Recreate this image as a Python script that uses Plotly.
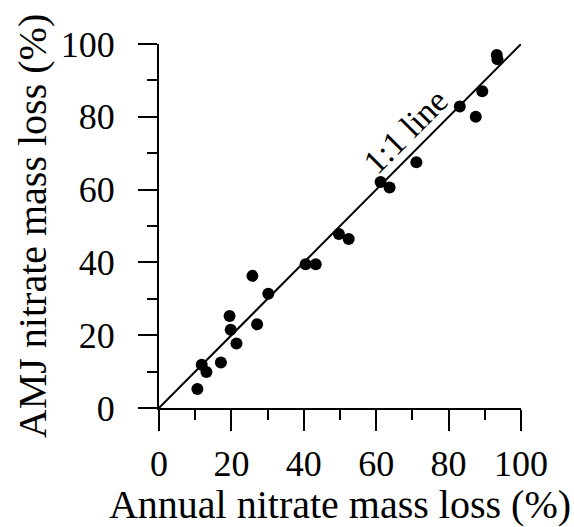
import plotly.graph_objects as go

# Data
annual_loss = [10.6, 11.8, 13.1, 17.1, 19.5, 19.8, 21.4, 25.8, 27.1, 30.2,
               40.5, 43.3, 49.7, 52.4, 61.2, 63.7, 71.1, 83.1, 87.5, 89.3, 93.3, 93.5]
amj_loss = [5.2, 11.9, 9.9, 12.5, 25.3, 21.5, 17.7, 36.3, 23.0, 31.4,
            39.5, 39.5, 47.8, 46.4, 62.1, 60.6, 67.5, 82.8, 80.0, 87.0, 97.0, 95.8]
one_to_one_x = [0, 100]
one_to_one_y = [0, 100]
tick_vals = [0, 20, 40, 60, 80, 100]
tick_text = ["0", "20", "40", "60", "80", "100"]

FONT = "Liberation Serif"

fig = go.Figure()
fig.add_trace(go.Scatter(x=one_to_one_x, y=one_to_one_y, mode="lines",
                         line=dict(color="black", width=2), showlegend=False,
                         hoverinfo="skip"))
fig.add_trace(go.Scatter(x=annual_loss, y=amj_loss, mode="markers",
                         marker=dict(color="black", size=12), showlegend=False,
                         cliponaxis=False))

fig.add_annotation(x=68, y=76, xref="x", yref="y", text="1:1 line", showarrow=False,
                   textangle=-45, font=dict(family=FONT, size=34, color="black"))

axis_common = dict(
    range=[0, 100], showgrid=False, zeroline=False, showline=True,
    linecolor="black", linewidth=2, ticks="outside", tickwidth=2,
    tickcolor="black", tickvals=tick_vals, ticktext=tick_text,
    tickfont=dict(family=FONT, size=36, color="black"),
    automargin=False,
    minor=dict(ticks="outside", ticklen=10, tickwidth=2, tickcolor="black",
               dtick=10, tick0=0, showgrid=False),
)

fig.update_layout(
    width=574, height=527,
    margin=dict(l=159, r=53, t=44, b=119),
    paper_bgcolor="white", plot_bgcolor="white",
    font=dict(family=FONT, color="black"),
    xaxis=dict(**axis_common, ticklen=21, ticklabelstandoff=2,
               title=dict(text="Annual nitrate mass loss (%)",
                          font=dict(family=FONT, size=40, color="black"),
                          standoff=8)),
    yaxis=dict(**axis_common, ticklen=19, ticklabelstandoff=16,
               title=dict(text="AMJ nitrate mass loss (%)",
                          font=dict(family=FONT, size=40, color="black"),
                          standoff=2)),
)

fig.write_html("out.html")
